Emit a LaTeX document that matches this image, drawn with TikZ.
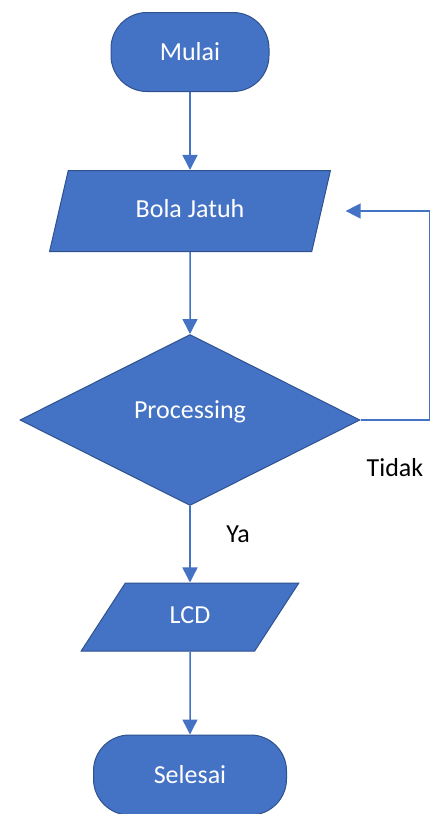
\documentclass[tikz,border=0pt]{standalone}
\usepackage{fontspec}
\setmainfont{Carlito}
\usepackage{tikz}
\usetikzlibrary{arrows.meta,shapes.geometric,positioning,calc}
\definecolor{flowblue}{RGB}{68,114,196}
\definecolor{flowedge}{RGB}{47,82,143}

\begin{document}
\begin{tikzpicture}[
    x=1pt, y=-1pt,
    font=\fontsize{26pt}{31pt}\selectfont,
    terminal/.style={rectangle, rounded corners=36pt, draw=flowedge, fill=flowblue, line width=1pt, text=white, inner sep=0pt},
    io/.style={trapezium, draw=flowedge, fill=flowblue, line width=1pt, text=white, text height=17pt, text depth=5pt},
    decision/.style={diamond, draw=flowedge, fill=flowblue, line width=1pt, text=white, inner sep=0pt, minimum width=340pt, minimum height=171pt},
    lbl/.style={text=black, inner sep=0pt},
    arrow/.style={draw=flowblue, line width=1.5pt, -{Triangle[length=15pt,width=15pt]}}
]
    \useasboundingbox (0,0) rectangle (431,814);

    % Start
    \node[terminal, minimum width=158pt, minimum height=79pt] (mulai) at (190,52) {Mulai};

    % Input
    \node[io, trapezium left angle=77, trapezium right angle=103, inner xsep=67.4pt, inner ysep=29.5pt] (bola) at (190,211) {Bola Jatuh};

    % Decision
    \node[decision] (proc) at (190,420) {\raisebox{8pt}[\height][\depth]{Processing}};

    % Output
    \node[io, trapezium left angle=57, trapezium right angle=123, inner xsep=44.4pt, inner ysep=23pt] (lcd) at (190,617) {LCD};

    % End
    \node[terminal, minimum width=193pt, minimum height=80pt] (selesai) at (190,775) {Selesai};

    % Labels
    \node[lbl] (tidak) at (395,468) {Tidak};
    \node[lbl] (ya) at (238,534) {Ya};

    % Arrows
    \draw[arrow] (mulai) -- (bola);
    \draw[arrow] (bola) -- (proc);
    \draw[arrow] (proc) -- (lcd);
    \draw[arrow] (lcd) -- (selesai);
    \draw[arrow, shorten >=24pt] (proc.east) -- ++(69,0) |- (bola.east);
\end{tikzpicture}
\end{document}
